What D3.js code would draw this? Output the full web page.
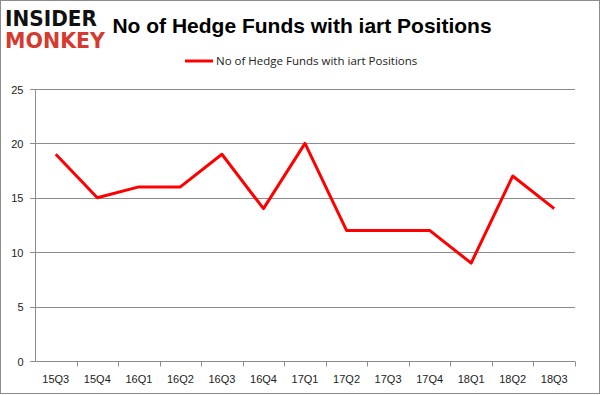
<!DOCTYPE html>
<html>
<head>
<meta charset="utf-8">
<title>No of Hedge Funds with iart Positions</title>
<script src="https://d3js.org/d3.v7.min.js"></script>
<style>
  body { margin: 0; background: #fff; }
  svg { font-family: "Open Sans", "DejaVu Sans", sans-serif; }
  .grid line { stroke: #8c8c8c; stroke-width: 1; }
  .axis text { font-size: 11px; fill: #222; }
  .axis path, .axis line { stroke: #8c8c8c; }
</style>
</head>
<body>
<div id="chart"></div>
<script>
// data
var quarters = ["15Q3","15Q4","16Q1","16Q2","16Q3","16Q4","17Q1","17Q2","17Q3","17Q4","18Q1","18Q2","18Q3"];
var funds = [19, 15, 16, 16, 19, 14, 20, 12, 12, 12, 9, 17, 14];
var yTicks = [0, 5, 10, 15, 20, 25];
var seriesName = "No of Hedge Funds with iart Positions";

var width = 601, height = 395;
var margin = {top: 89, right: 26, bottom: 34, left: 35};

var svg = d3.select("#chart").append("svg")
    .attr("width", width)
    .attr("height", height);

// outer frame
svg.append("rect")
    .attr("x", 0.5).attr("y", 0.5)
    .attr("width", width - 2).attr("height", height - 2)
    .attr("fill", "#fff")
    .attr("stroke", "#8c8c8c");

var x = d3.scaleBand()
    .domain(quarters)
    .range([margin.left, width - margin.right]);

var y = d3.scaleLinear()
    .domain([0, 25])
    .range([height - margin.bottom, margin.top]);

// horizontal gridlines
svg.append("g")
    .attr("class", "grid")
    .selectAll("line")
    .data(yTicks)
    .enter().append("line")
    .attr("x1", margin.left - 5)
    .attr("x2", width - margin.right)
    .attr("y1", function(d) { return Math.round(y(d)) + 0.5; })
    .attr("y2", function(d) { return Math.round(y(d)) + 0.5; });

// y axis
var yAxis = svg.append("g")
    .attr("class", "axis")
    .attr("transform", "translate(" + (margin.left + 0.5) + ",0.5)")
    .call(d3.axisLeft(y).tickValues(yTicks).tickSize(0).tickPadding(12));
yAxis.select(".domain").remove();
yAxis.append("line")
    .attr("y1", y(0)).attr("y2", y(25))
    .attr("stroke", "#8c8c8c");

// x axis
var xAxis = svg.append("g")
    .attr("class", "axis")
    .attr("transform", "translate(0," + (Math.round(y(0)) + 0.5) + ")");
xAxis.call(d3.axisBottom(x).tickSize(0).tickPadding(14));
xAxis.select(".domain").remove();
xAxis.append("g").selectAll("line")
    .data(quarters)
    .enter().append("line")
    .attr("x1", function(d) { return Math.round(x(d) + x.bandwidth()) + 0.5; })
    .attr("x2", function(d) { return Math.round(x(d) + x.bandwidth()) + 0.5; })
    .attr("y1", 0).attr("y2", 5)
    .attr("stroke", "#8c8c8c");

// line
var line = d3.line()
    .x(function(d, i) { return x(quarters[i]) + x.bandwidth() / 2; })
    .y(function(d) { return y(d); });

svg.append("path")
    .datum(funds)
    .attr("fill", "none")
    .attr("stroke", "#ff0000")
    .attr("stroke-width", 3)
    .attr("stroke-linejoin", "round")
    .attr("d", line);

// title
svg.append("text")
    .attr("x", 302).attr("y", 33)
    .attr("text-anchor", "middle")
    .style("font-size", "21px")
    .style("font-weight", "bold")
    .style("font-family", "'Liberation Sans', sans-serif")
    .attr("fill", "#000")
    .text("No of Hedge Funds with iart Positions");

// legend
svg.append("line")
    .attr("x1", 185).attr("x2", 213)
    .attr("y1", 61).attr("y2", 61)
    .attr("stroke", "#ff0000")
    .attr("stroke-width", 3);
svg.append("text")
    .attr("x", 216).attr("y", 65)
    .style("font-size", "11.5px")
    .attr("fill", "#222")
    .text(seriesName);

// logo
var logo = svg.append("g").style("font-family", "'DejaVu Sans', sans-serif").style("font-weight", "bold");
logo.append("text")
    .attr("x", 5).attr("y", 26)
    .attr("textLength", 92).attr("lengthAdjust", "spacingAndGlyphs")
    .style("font-size", "21px")
    .attr("fill", "#111")
    .text("INSIDER");
logo.append("text")
    .attr("x", 5).attr("y", 48)
    .attr("textLength", 100).attr("lengthAdjust", "spacingAndGlyphs")
    .style("font-size", "21px")
    .attr("fill", "#d63a2f")
    .text("MONKEY");
</script>
</body>
</html>
